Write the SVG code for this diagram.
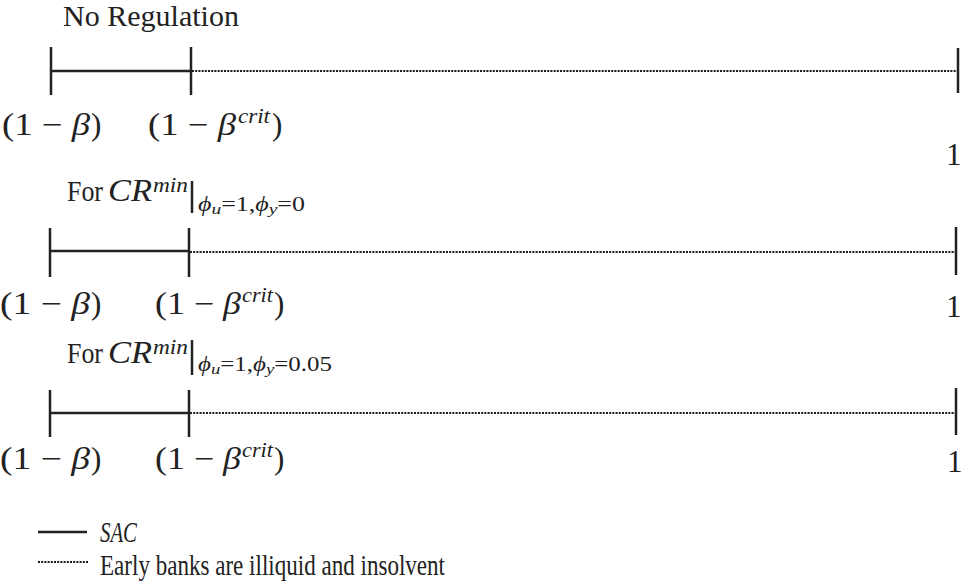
<svg xmlns="http://www.w3.org/2000/svg" width="967" height="585" viewBox="0 0 967 585">
<style>
.t{font-family:"Liberation Serif","DejaVu Serif",serif;fill:#222;font-size:29px}
.m{font-size:31px}
.i{font-style:italic}
.sup{font-family:"Liberation Serif","DejaVu Serif",serif;fill:#222;font-size:21px;font-style:italic}
.sub{font-family:"Liberation Serif","DejaVu Serif",serif;fill:#222;font-size:20px}
.solid{stroke:#222;stroke-width:2.5;fill:none}
.dot{stroke:#1a1a1a;stroke-width:2.2;stroke-dasharray:2 1.2;fill:none}
</style>
<rect width="967" height="585" fill="#fff"/>
<g id="connectors">
<line class="solid" x1="51" y1="71" x2="191" y2="71"/>
<line class="dot" x1="192" y1="71" x2="957" y2="71"/>
<line class="solid" x1="50" y1="251" x2="189" y2="251"/>
<line class="dot" x1="190" y1="252" x2="955" y2="252"/>
<line class="solid" x1="50" y1="413" x2="189" y2="413"/>
<line class="dot" x1="190" y1="413" x2="955" y2="413"/>
</g>
<g id="row1">
<text class="t" x="63" y="26" textLength="176" lengthAdjust="spacingAndGlyphs">No Regulation</text>
<line class="solid" x1="51" y1="47" x2="51" y2="95"/>
<line class="solid" x1="191" y1="47" x2="191" y2="95"/>
<line class="solid" x1="958" y1="48" x2="958" y2="93"/>
<text class="t m" x="2" y="135" textLength="88" lengthAdjust="spacingAndGlyphs">(1 − <tspan class="i">β</tspan></text>
<text class="t m" x="91" y="135">)</text>
<text class="t m" x="148" y="135" textLength="88" lengthAdjust="spacingAndGlyphs">(1 − <tspan class="i">β</tspan></text>
<text class="sup" x="238" y="123" textLength="32" lengthAdjust="spacingAndGlyphs">crit</text>
<text class="t m" x="272" y="135">)</text>
<text class="t m" x="946" y="165">1</text>
</g>
<g id="row2">
<text class="t" x="67" y="201" textLength="36" lengthAdjust="spacingAndGlyphs">For</text>
<text class="t i m" x="108" y="201" textLength="44" lengthAdjust="spacingAndGlyphs">CR</text>
<text class="sup" x="153" y="192" textLength="35" lengthAdjust="spacingAndGlyphs">min</text>
<line class="solid" x1="192" y1="181" x2="192" y2="213"/>
<text class="sub" x="198" y="211" textLength="107" lengthAdjust="spacingAndGlyphs"><tspan font-style="italic">ϕ</tspan><tspan font-style="italic" font-size="15" dy="3">u</tspan><tspan dy="-3">=1,</tspan><tspan font-style="italic">ϕ</tspan><tspan font-style="italic" font-size="15" dy="3">y</tspan><tspan dy="-3">=0</tspan></text>
<line class="solid" x1="50" y1="228" x2="50" y2="277"/>
<line class="solid" x1="189" y1="228" x2="189" y2="277"/>
<line class="solid" x1="956" y1="227" x2="956" y2="275"/>
<text class="t m" x="0" y="314" textLength="90" lengthAdjust="spacingAndGlyphs">(1 − <tspan class="i">β</tspan></text>
<text class="t m" x="91" y="314">)</text>
<text class="t m" x="155" y="314" textLength="86" lengthAdjust="spacingAndGlyphs">(1 − <tspan class="i">β</tspan></text>
<text class="sup" x="242" y="302" textLength="31" lengthAdjust="spacingAndGlyphs">crit</text>
<text class="t m" x="274" y="314">)</text>
<text class="t m" x="946" y="317">1</text>
</g>
<g id="row3">
<text class="t" x="67" y="363" textLength="36" lengthAdjust="spacingAndGlyphs">For</text>
<text class="t i m" x="108" y="363" textLength="44" lengthAdjust="spacingAndGlyphs">CR</text>
<text class="sup" x="153" y="354" textLength="35" lengthAdjust="spacingAndGlyphs">min</text>
<line class="solid" x1="192" y1="340" x2="192" y2="375"/>
<text class="sub" x="198" y="371" textLength="134" lengthAdjust="spacingAndGlyphs"><tspan font-style="italic">ϕ</tspan><tspan font-style="italic" font-size="15" dy="3">u</tspan><tspan dy="-3">=1,</tspan><tspan font-style="italic">ϕ</tspan><tspan font-style="italic" font-size="15" dy="3">y</tspan><tspan dy="-3">=0.05</tspan></text>
<line class="solid" x1="50" y1="390" x2="50" y2="437"/>
<line class="solid" x1="189" y1="390" x2="189" y2="437"/>
<line class="solid" x1="956" y1="388" x2="956" y2="435"/>
<text class="t m" x="0" y="469" textLength="90" lengthAdjust="spacingAndGlyphs">(1 − <tspan class="i">β</tspan></text>
<text class="t m" x="91" y="469">)</text>
<text class="t m" x="155" y="469" textLength="86" lengthAdjust="spacingAndGlyphs">(1 − <tspan class="i">β</tspan></text>
<text class="sup" x="242" y="457" textLength="31" lengthAdjust="spacingAndGlyphs">crit</text>
<text class="t m" x="274" y="469">)</text>
<text class="t m" x="947" y="472">1</text>
</g>
<g id="legend">
<line class="solid" x1="38" y1="532" x2="87" y2="532"/>
<text class="t i" x="100" y="542" font-size="25" textLength="37" lengthAdjust="spacingAndGlyphs">SAC</text>
<line class="dot" x1="38" y1="562" x2="88" y2="562"/>
<text class="t" x="100" y="575" font-size="27" textLength="345" lengthAdjust="spacingAndGlyphs">Early banks are illiquid and insolvent</text>
</g>
</svg>
